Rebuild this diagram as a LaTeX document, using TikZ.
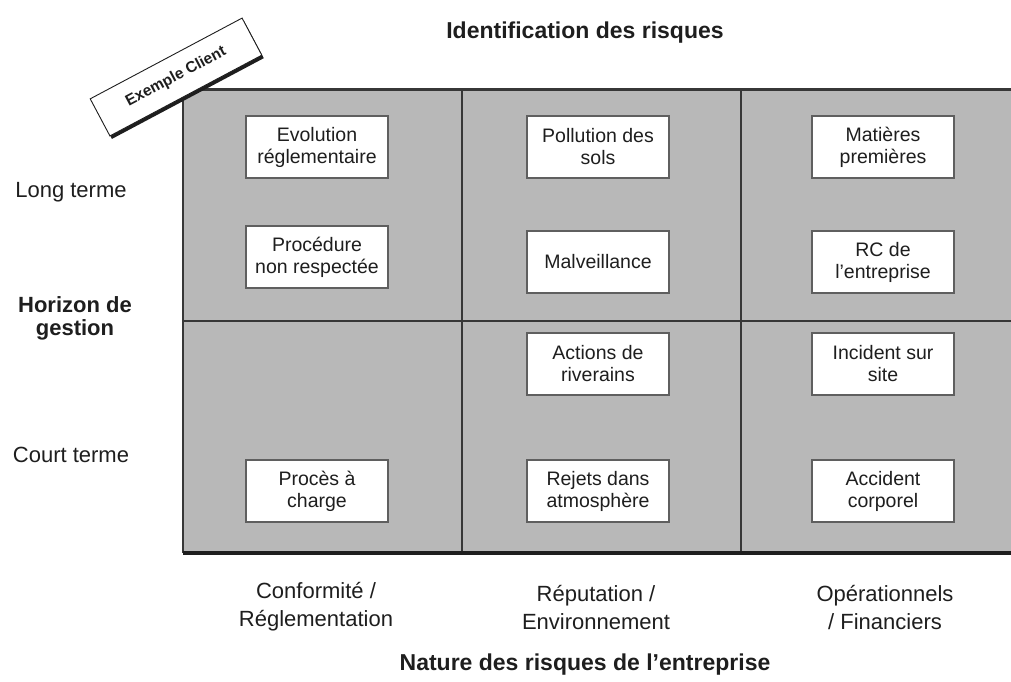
\documentclass[tikz,border=0pt]{standalone}
\usepackage{fontspec}
\setmainfont{Liberation Sans}
\usetikzlibrary{shadows}
\definecolor{cellgray}{RGB}{184,184,184}
\definecolor{rulegray}{RGB}{55,55,55}
\definecolor{inkgray}{RGB}{30,30,30}
\tikzset{
  riskbox/.style={draw=rulegray!80, line width=1.1pt, fill=white,
    minimum width=142pt, minimum height=62pt, inner sep=0pt,
    align=center, text=inkgray, font=\fontsize{19.5}{22}\selectfont},
  axislabel/.style={align=center, text=inkgray, font=\fontsize{22}{28}\selectfont},
  axistitle/.style={align=center, text=inkgray, font=\fontsize{23}{24}\selectfont\bfseries},
  tagbox/.style={draw=inkgray, line width=0.9pt, fill=white, rotate=28,
    minimum width=172pt, minimum height=42pt, inner sep=0pt,
    font=\fontsize{15.5}{18}\selectfont\bfseries, text=inkgray,
    drop shadow={shadow xshift=2pt, shadow yshift=-3pt, opacity=1, fill=inkgray}},
  divider/.style={draw=rulegray, line width=2pt}
}
\begin{document}
\begin{tikzpicture}[x=1pt, y=-1pt]
\useasboundingbox (0,0) rectangle (1011,681);

% matrix background and rules
\fill[cellgray] (183,89) rectangle (1011,553);
\draw[divider] (183,89) -- (183,553);
\draw[divider] (462,89) -- (462,553);
\draw[divider] (741,89) -- (741,553);
\draw[divider] (183,321) -- (1011,321);
\draw[draw=rulegray, line width=3pt] (183,89) -- (1011,89);
\draw[draw=inkgray, line width=4pt] (183,553) -- (1011,553);

% risks
\node[riskbox] (evol) at (317,147) {Evolution\\réglementaire};
\node[riskbox] (proc) at (317,257) {Procédure\\non respectée};
\node[riskbox] (charge) at (317,491) {Procès à\\charge};
\node[riskbox] (sols) at (598,147) {Pollution des\\sols};
\node[riskbox] (malv) at (598,262) {Malveillance};
\node[riskbox] (riv) at (598,364) {Actions de\\riverains};
\node[riskbox] (rejets) at (598,491) {Rejets dans\\atmosphère};
\node[riskbox] (mat) at (883,147) {Matières\\premières};
\node[riskbox] (rc) at (883,262) {RC de\\l'entreprise};
\node[riskbox] (incid) at (883,364) {Incident sur\\site};
\node[riskbox] (accid) at (883,491) {Accident\\corporel};

% axes
\node[axistitle] (ident) at (585,33) {Identification des risques};
\node[axislabel] (long) at (71,192) {Long terme};
\node[axistitle, font=\fontsize{22}{23}\selectfont\bfseries] (horiz) at (75,318) {Horizon de\\gestion};
\node[axislabel] (court) at (71,455) {Court terme};
\node[axislabel] (conf) at (316,607) {Conformité /\\Réglementation};
\node[axislabel] (rep) at (596,607) {Réputation /\\Environnement};
\node[axislabel] (oper) at (885,607) {Opérationnels\\/ Financiers};
\node[axistitle] (nature) at (585,665) {Nature des risques de l’entreprise};

% tag
\node[tagbox] (tag) at (176,77) {Exemple Client};
\end{tikzpicture}
\end{document}
